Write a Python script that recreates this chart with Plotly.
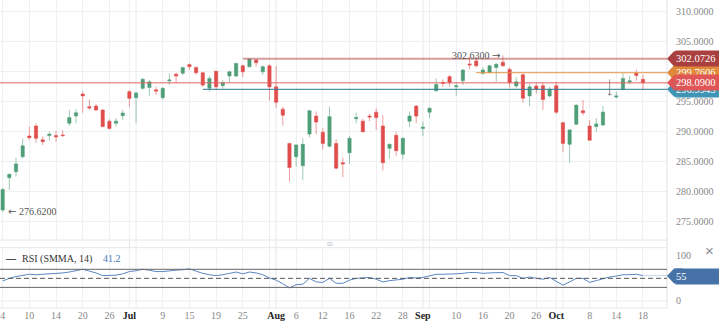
import plotly.graph_objects as go

# ---------------- data ----------------
dates = [
    "2019-06-04", "2019-06-05", "2019-06-06", "2019-06-07", "2019-06-10", "2019-06-11", "2019-06-12",
    "2019-06-13", "2019-06-14", "2019-06-17", "2019-06-18", "2019-06-19", "2019-06-20", "2019-06-21",
    "2019-06-24", "2019-06-25", "2019-06-26", "2019-06-27", "2019-06-28",
    "2019-07-01", "2019-07-02", "2019-07-03", "2019-07-05", "2019-07-08", "2019-07-09", "2019-07-10",
    "2019-07-11", "2019-07-12", "2019-07-15", "2019-07-16", "2019-07-17", "2019-07-18", "2019-07-19",
    "2019-07-22", "2019-07-23", "2019-07-24", "2019-07-25", "2019-07-26", "2019-07-29", "2019-07-30",
    "2019-07-31",
    "2019-08-01", "2019-08-02", "2019-08-05", "2019-08-06", "2019-08-07", "2019-08-08", "2019-08-09",
    "2019-08-12", "2019-08-13", "2019-08-14", "2019-08-15", "2019-08-16", "2019-08-19", "2019-08-20",
    "2019-08-21", "2019-08-22", "2019-08-23", "2019-08-26", "2019-08-27", "2019-08-28", "2019-08-29",
    "2019-08-30",
    "2019-09-03", "2019-09-04", "2019-09-05", "2019-09-06", "2019-09-09", "2019-09-10", "2019-09-11",
    "2019-09-12", "2019-09-13", "2019-09-16", "2019-09-17", "2019-09-18", "2019-09-19", "2019-09-20",
    "2019-09-23", "2019-09-24", "2019-09-25", "2019-09-26", "2019-09-27", "2019-09-30",
    "2019-10-01", "2019-10-02", "2019-10-03", "2019-10-04", "2019-10-07", "2019-10-08", "2019-10-09",
    "2019-10-10", "2019-10-11", "2019-10-14", "2019-10-15", "2019-10-16", "2019-10-17", "2019-10-18",
]

opens = [
    276.95, 282.30, 283.30, 285.80, 289.24, 290.90, 288.60, 289.30, 289.30, 289.40, 291.35, 292.55, 296.20, 294.10,
    294.20, 293.55, 291.70, 291.35, 292.60,
    296.60, 295.60, 297.15, 297.30, 296.90, 295.60, 298.40, 299.50, 299.65, 301.10, 300.60, 299.75, 297.15, 300.00,
    297.60, 299.20, 299.20, 300.90, 300.75, 301.85, 299.90, 300.90,
    297.40, 293.70, 288.00, 285.80, 284.30, 289.55, 292.55, 289.85, 287.55, 288.00, 284.80, 286.45, 292.10, 291.70,
    292.55, 293.20, 290.90, 287.20, 289.35, 286.20, 291.70, 294.20,
    290.50, 293.20, 296.75, 298.15, 299.10, 297.40, 298.40, 301.20, 301.70, 299.65, 299.80, 300.60, 301.50, 300.30,
    297.55, 299.40, 295.90, 297.55, 297.60, 295.90,
    297.60, 291.45, 287.85, 291.20, 293.45, 290.90, 290.80, 291.05, 296.15, 295.70, 297.00, 298.20, 299.65, 298.65,
]
highs = [
    280.60, 283.00, 285.60, 288.85, 290.80, 291.30, 289.20, 289.95, 290.10, 290.20, 293.55, 293.70, 296.60, 295.30,
    294.55, 293.70, 292.00, 292.20, 293.55,
    296.90, 296.60, 298.90, 298.55, 297.40, 297.40, 299.65, 299.75, 300.75, 301.30, 300.85, 299.90, 299.20, 300.05,
    298.55, 300.10, 301.40, 301.10, 302.15, 302.00, 301.00, 301.15,
    300.85, 294.10, 288.10, 287.85, 288.85, 293.55, 293.30, 290.50, 294.10, 288.70, 285.65, 289.25, 293.10, 292.15,
    292.90, 293.85, 292.70, 288.00, 289.95, 289.00, 293.30, 294.40,
    291.60, 294.10, 298.80, 298.65, 299.40, 298.10, 300.30, 302.40, 302.40, 300.65, 301.00, 301.40, 302.63, 300.65,
    299.00, 299.65, 298.00, 298.00, 298.20, 297.40,
    298.25, 291.60, 290.40, 294.55, 295.20, 291.90, 292.20, 294.20, 298.65, 296.60, 299.65, 299.20, 300.30, 299.40,
]
lows = [
    276.62, 280.30, 282.50, 285.50, 288.60, 288.10, 287.70, 288.45, 288.30, 289.10, 290.90, 291.35, 293.10, 293.55,
    293.45, 290.70, 290.30, 290.80, 291.90,
    294.10, 291.35, 296.90, 295.90, 296.05, 295.30, 297.70, 298.00, 299.40, 300.20, 299.40, 297.40, 296.60, 296.90,
    297.15, 298.10, 299.00, 299.00, 300.65, 300.75, 299.40, 295.10,
    293.95, 290.95, 281.65, 284.15, 281.90, 289.00, 289.55, 287.00, 287.35, 283.70, 282.40, 284.60, 291.35, 289.80,
    291.70, 290.25, 283.50, 285.50, 285.95, 285.35, 290.70, 291.35,
    289.25, 292.20, 296.60, 297.40, 297.40, 295.90, 297.70, 300.30, 300.65, 299.40, 299.65, 298.25, 300.75, 297.30,
    297.15, 294.75, 294.20, 296.30, 293.55, 295.65,
    292.90, 286.60, 284.80, 291.05, 292.70, 288.40, 289.95, 290.90, 295.90, 295.50, 296.90, 297.80, 298.40, 297.00,
]
closes = [
    280.35, 282.87, 284.60, 287.60, 288.95, 288.85, 288.30, 289.55, 289.10, 289.30, 292.30, 293.10, 295.90, 293.90,
    293.55, 290.80, 290.50, 291.70, 293.05,
    295.50, 296.40, 298.65, 298.25, 296.70, 297.15, 298.55, 299.20, 300.60, 300.75, 299.75, 297.70, 298.80, 297.40,
    298.10, 299.90, 301.30, 299.90, 302.00, 301.40, 300.75, 297.40,
    294.85, 292.70, 284.00, 287.75, 287.85, 293.45, 291.55, 288.00, 292.45, 283.90, 284.60, 288.85, 292.30, 289.95,
    292.40, 292.30, 284.80, 287.85, 286.80, 288.85, 292.55, 292.55,
    290.70, 293.85, 297.80, 298.00, 298.10, 297.60, 300.20, 301.05, 300.90, 300.20, 300.90, 301.15, 300.90, 298.10,
    298.25, 295.50, 297.40, 297.00, 295.30, 297.00,
    293.20, 288.00, 290.25, 294.35, 293.10, 288.55, 291.25, 293.20, 296.15, 295.90, 298.80, 298.40, 299.30, 298.09,
]

rsi = [
    44, 50, 54, 57, 59, 58, 59, 59, 60, 62, 64, 67, 70, 66, 62, 56, 56, 57, 60,
    65, 67, 70, 68, 65, 65, 67, 68, 69, 71, 66, 61, 58, 56, 58, 61, 64, 60, 64, 62, 58, 51,
    46, 38, 29, 36, 37, 50, 42, 41, 50, 39, 39, 46, 50, 51, 52, 48, 42, 45, 47, 48, 52, 51,
    52, 56, 59, 59, 59, 60, 61, 63, 63, 61, 62, 63, 63, 56, 56, 50, 53, 50, 48, 52,
    44, 35, 42, 50, 50, 41, 45, 49, 53, 55, 58, 58, 59, 56,
]
rsi_legend_value = "41.2"
rsi_last_label = "55"

tick_dates = ["2019-06-04", "2019-06-10", "2019-06-14", "2019-06-20", "2019-06-26", "2019-07-01",
              "2019-07-09", "2019-07-15", "2019-07-19", "2019-07-25", "2019-08-01", "2019-08-06",
              "2019-08-12", "2019-08-16", "2019-08-22", "2019-08-28", "2019-09-03", "2019-09-10",
              "2019-09-16", "2019-09-20", "2019-09-26", "2019-10-01", "2019-10-08", "2019-10-14",
              "2019-10-18"]
tick_text = ["4", "10", "14", "20", "26", "Jul", "9", "15", "19", "25", "Aug", "6", "12", "16", "22",
             "28", "Sep", "10", "16", "20", "26", "Oct", "8", "14", "18"]
month_labels = ["Jul", "Aug", "Sep", "Oct"]
extra_month_lines = ["2019-07-02", "2019-07-31", "2019-09-04", "2019-10-02"]

price_ticks = [275, 280, 285, 290, 295, 300, 305, 310]
price_tick_text = ["275.0000", "280.0000", "285.0000", "290.0000", "295.0000", "300.0000", "305.0000", "310.0000"]

# horizontal level lines (drawn in this order: last one on top)
level_values = [299.7606, 296.9945, 302.0726, 298.0900]
level_starts = ["2019-09-13", "2019-07-17", "2019-07-25", None]
level_line_colors = ["rgba(232,146,70,0.8)", "rgba(52,128,150,0.85)", "rgba(175,60,60,0.5)", "rgba(226,96,96,0.65)"]
level_line_widths = [1.1, 1.3, 2.2, 1.5]
level_tag_colors = ["#e0893a", "#3f95b3", "#a9403f", "#e05656"]
level_labels = ["299.7606", "296.9945", "302.0726", "298.0900"]

# ---------------- styling ----------------
FONT = "Liberation Serif, Times New Roman, serif"
GREEN = "#4f9e78"
GREEN_L = "rgba(79,158,120,0.55)"
RED = "#e04d4d"
RED_L = "rgba(224,77,77,0.55)"
GRAY = "#9a9a9a"
GRID = "#eef0f2"

W, H = 719, 327
ML, MR, MT, MB = 0, 52, 0, 19
PW = W - ML - MR
PH = H - MT - MB  # plot height in px


def py(pix):
    return (PH - (pix - MT)) / PH


main_dom = [py(240), 1.0]
rsi_dom = [0.0, py(247.7)]
x_range = [-0.4, 99.6]
y_range = [271.96, 311.83]
rsi_range = [-15.6, 117.8]

fig = go.Figure()

normal = [i for i in range(len(dates)) if opens[i] != closes[i]]
flat = [i for i in range(len(dates)) if opens[i] == closes[i]]

fig.add_trace(go.Candlestick(
    x=[dates[i] for i in normal],
    open=[opens[i] for i in normal], high=[highs[i] for i in normal],
    low=[lows[i] for i in normal], close=[closes[i] for i in normal],
    increasing=dict(line=dict(color=GREEN_L, width=1), fillcolor=GREEN),
    decreasing=dict(line=dict(color=RED_L, width=1), fillcolor=RED),
    xaxis="x", yaxis="y", showlegend=False, hoverinfo="skip"))

if flat:
    fig.add_trace(go.Candlestick(
        x=[dates[i] for i in flat],
        open=[opens[i] for i in flat], high=[highs[i] for i in flat],
        low=[lows[i] for i in flat], close=[closes[i] for i in flat],
        increasing=dict(line=dict(color=GRAY, width=1), fillcolor=GRAY),
        decreasing=dict(line=dict(color=GRAY, width=1), fillcolor=GRAY),
        xaxis="x", yaxis="y", showlegend=False, hoverinfo="skip"))

fig.add_trace(go.Scatter(x=dates, y=rsi, mode="lines", line=dict(color="#5b86c4", width=1),
                         xaxis="x", yaxis="y2", showlegend=False, hoverinfo="skip"))

shapes = []
for d, t in zip(tick_dates, tick_text):
    if t in month_labels:
        shapes.append(dict(type="line", xref="x", yref="paper", x0=d, x1=d, y0=0, y1=1,
                           line=dict(color="#e2e5e8", width=1), layer="below"))
for d in extra_month_lines:
    shapes.append(dict(type="line", xref="x", yref="paper", x0=d, x1=d, y0=0, y1=1,
                       line=dict(color="#eceef1", width=1), layer="below"))
for yy in [py(240), py(247.7), 0.0]:
    shapes.append(dict(type="line", xref="paper", yref="paper", x0=0, x1=1, y0=yy, y1=yy,
                       line=dict(color="#e4e6e9", width=1), layer="below"))
shapes.append(dict(type="line", xref="paper", yref="paper", x0=1, x1=1, y0=0, y1=1,
                   line=dict(color="#dfe2e5", width=1)))
shapes.append(dict(type="line", xref="paper", yref="y2", x0=0, x1=1, y0=70, y1=70,
                   line=dict(color="#666666", width=1)))
shapes.append(dict(type="line", xref="paper", yref="y2", x0=0, x1=1, y0=30, y1=30,
                   line=dict(color="#666666", width=1)))
shapes.append(dict(type="line", xref="paper", yref="y2", x0=0, x1=1, y0=50, y1=50,
                   line=dict(color="#555555", width=1, dash="5px,3px")))
shapes.append(dict(type="line", xref="paper", yref="y2", x0=0, x1=1, y0=0, y1=0,
                   line=dict(color="#eceef1", width=1), layer="below"))
shapes.append(dict(type="line", xref="x", yref="y2", x0=dates[-1], x1=x_range[1], y0=rsi[-1], y1=rsi[-1],
                   line=dict(color="rgba(91,134,196,0.35)", width=1)))

for v, s, c, w in zip(level_values, level_starts, level_line_colors, level_line_widths):
    x0 = s if s is not None else x_range[0]
    shapes.append(dict(type="line", xref="x", yref="y", x0=x0, x1=x_range[1], y0=v, y1=v,
                       line=dict(color=c, width=w)))

annotations = []
TAG_PATH = "M0,0 L7,-7.5 L16,-7.5 L16,7.5 L7,7.5 Z"


def add_tag(yref, yval, color, text):
    shapes.append(dict(type="path", xref="paper", yref=yref, xsizemode="pixel", ysizemode="pixel",
                       xanchor=1, yanchor=yval, path=TAG_PATH, fillcolor=color,
                       line=dict(width=0), layer="above"))
    annotations.append(dict(x=1, xref="paper", y=yval, yref=yref, xanchor="left", yanchor="middle",
                            xshift=8, text=text, showarrow=False, bgcolor=color, width=44, height=15,
                            borderpad=0, align="left",
                            font=dict(family=FONT, size=10.5, color="white")))


for v, c, t in zip(level_values, level_tag_colors, level_labels):
    add_tag("y", v, c, t)
add_tag("y2", float(rsi_last_label), "#4672a8", rsi_last_label)

# close icon of the RSI pane
annotations.append(dict(x=1, xref="paper", y=112, yref="y2", xanchor="left", yanchor="middle",
                        xshift=36, text="\u00d7", showarrow=False,
                        font=dict(family="Liberation Sans, DejaVu Sans", size=15, color="#8a8a8a")))

ARROW = '<span style="font-family:DejaVu Sans">%s</span>'
lo_i = lows.index(min(lows))
hi_i = highs.index(max(highs))
annotations.append(dict(x=dates[lo_i], y=lows[lo_i], xref="x", yref="y", xanchor="left", yanchor="middle",
                        xshift=3, text=(ARROW % "\u2190") + " %.4f" % lows[lo_i], showarrow=False,
                        font=dict(family=FONT, size=10, color="#555")))
annotations.append(dict(x=dates[hi_i], y=highs[hi_i], xref="x", yref="y", xanchor="right", yanchor="middle",
                        xshift=-1, text="%.4f " % highs[hi_i] + (ARROW % "\u2192"), showarrow=False,
                        font=dict(family=FONT, size=10, color="#555")))

annotations.append(dict(x=0, y=py(258.5), xref="paper", yref="paper", xanchor="left", yanchor="middle",
                        xshift=3, text="<b>\u2014</b>", showarrow=False,
                        font=dict(family=FONT, size=10, color="#222")))
annotations.append(dict(x=0, y=py(258.5), xref="paper", yref="paper", xanchor="left", yanchor="middle",
                        xshift=20, text="RSI (SMMA, 14)", showarrow=False,
                        font=dict(family=FONT, size=10, color="#333")))
annotations.append(dict(x=0, y=py(258.5), xref="paper", yref="paper", xanchor="left", yanchor="middle",
                        xshift=101, text=rsi_legend_value, showarrow=False,
                        font=dict(family=FONT, size=10, color="#4a78b5")))
annotations.append(dict(x=330 / PW, y=py(243.5), xref="paper", yref="paper", xanchor="center",
                        yanchor="middle", text="\u2261", showarrow=False,
                        font=dict(family="DejaVu Sans", size=9, color="#d3d6d9")))

tick_html = []
for t in tick_text:
    if t in month_labels:
        tick_html.append('<span style="color:#222"><b>%s</b></span>' % t)
    else:
        tick_html.append(t)

fig.update_layout(
    width=W, height=H,
    margin=dict(l=ML, r=MR, t=MT, b=MB),
    paper_bgcolor="white", plot_bgcolor="white",
    showlegend=False,
    boxgap=0.3,
    xaxis=dict(type="category", categoryorder="array", categoryarray=dates, range=x_range,
               anchor="y2", tickmode="array", tickvals=tick_dates, ticktext=tick_html,
               showgrid=True, gridcolor=GRID, gridwidth=1, zeroline=False, showline=False, ticks="",
               tickfont=dict(family=FONT, size=10, color="#888"), rangeslider=dict(visible=False),
               fixedrange=True),
    yaxis=dict(domain=main_dom, range=y_range, side="right", anchor="x", tickmode="array",
               tickvals=price_ticks, ticktext=price_tick_text, showgrid=True, gridcolor=GRID,
               zeroline=False, showline=False, ticks="", ticklabelstandoff=8,
               tickfont=dict(family=FONT, size=10, color="#888")),
    yaxis2=dict(domain=rsi_dom, range=rsi_range, side="right", anchor="x", tickmode="array",
                tickvals=[0, 100], ticktext=["0", "100"], showgrid=False, zeroline=False,
                showline=False, ticks="", ticklabelstandoff=8,
                tickfont=dict(family=FONT, size=10, color="#888")),
    shapes=shapes,
    annotations=annotations,
)

fig.write_html("out.html")
